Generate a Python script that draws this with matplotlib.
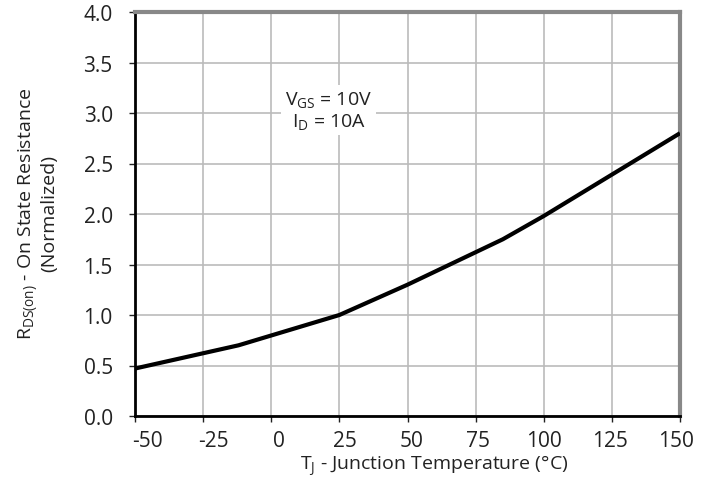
import matplotlib
matplotlib.use("Agg")
import matplotlib.pyplot as plt
import matplotlib.transforms as mtransforms

plt.rcParams['font.family'] = ['Open Sans', 'DejaVu Sans']
plt.rcParams['mathtext.fontset'] = 'custom'
plt.rcParams['mathtext.rm'] = 'Open Sans'
plt.rcParams['mathtext.it'] = 'Open Sans'

temps = [-50, -12, 25, 50, 85, 100, 150]
rds = [0.47, 0.70, 1.00, 1.30, 1.75, 1.98, 2.80]
xticks = [-50, -25, 0, 25, 50, 75, 100, 125, 150]
yticks = [0.0, 0.5, 1.0, 1.5, 2.0, 2.5, 3.0, 3.5, 4.0]

fig = plt.figure(figsize=(7.12, 4.81), dpi=100)
ax = fig.add_axes([135/712, 1 - 417/481, (680-135)/712, (417-13)/481])

ax.plot(temps, rds, color='black', lw=3, solid_capstyle='butt', zorder=3)
ax.set_xlim(-50, 150)
ax.set_ylim(0, 4)
ax.set_xticks(xticks)
ax.set_xticklabels([str(t) for t in xticks])
ax.set_yticks(yticks)
ax.set_yticklabels([f"{v:.1f}" for v in yticks])
ax.grid(True, color='#bbbbbb', lw=1.2)
ax.set_axisbelow(True)
ax.tick_params(labelsize=15, length=4, width=1, colors='#222222')
ax.tick_params(axis='x', pad=6)
ax.tick_params(axis='y', pad=12)

# x tick labels in the reference sit slightly right of their ticks, less so toward the right
n = len(xticks)
for i, lab in enumerate(ax.get_xticklabels()):
    dx = (12 - 16 * i / (n - 1)) / 100.0
    lab.set_transform(lab.get_transform() + mtransforms.ScaledTranslation(dx, 0, fig.dpi_scale_trans))

for s in ['left', 'bottom']:
    ax.spines[s].set_color('black')
    ax.spines[s].set_linewidth(2)
for s in ['top', 'right']:
    ax.spines[s].set_color('#888888')
    ax.spines[s].set_linewidth(3)

fig.text(434/712, 1 - 466/481, r"T$_\mathrm{J}$ - Junction Temperature (°C)", fontsize=14,
         ha='center', va='center', color='#222222')
fig.text(37/712, 1 - 214/481, "R$_\\mathrm{DS(on)}$ - On State Resistance\n(Normalized)", fontsize=14,
         ha='center', va='center', rotation=90, linespacing=1.0, color='#222222')

ax.text(21, 3.03, "V$_\\mathrm{GS}$ = 10V\nI$_\\mathrm{D}$ = 10A", fontsize=14, ha='center', va='center',
        linespacing=1.1, color='#222222',
        bbox=dict(facecolor='white', edgecolor='none', pad=3), zorder=4)

fig.savefig("out.png", dpi=100)
